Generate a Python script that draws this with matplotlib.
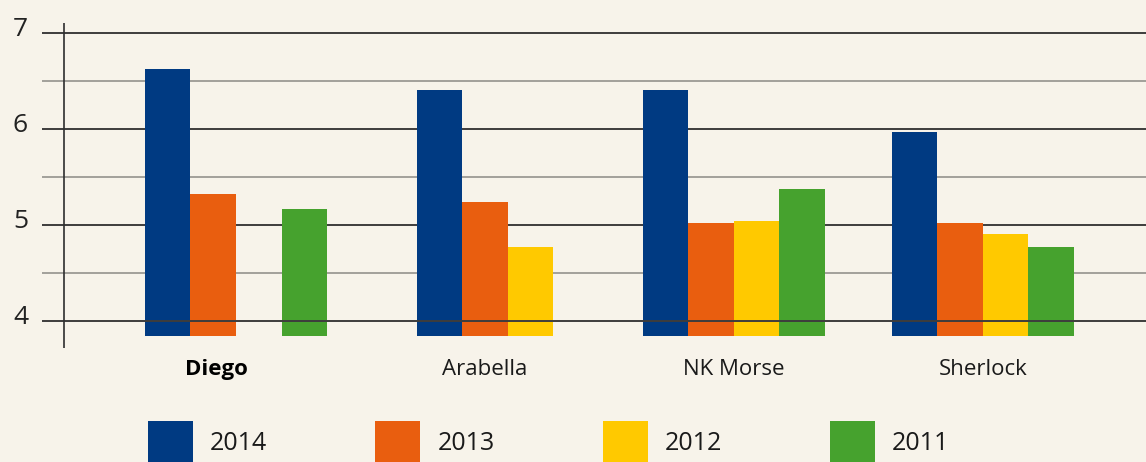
import numpy as np
import matplotlib.pyplot as plt
from matplotlib.patches import Rectangle
from matplotlib.transforms import ScaledTranslation

names = ['Diego', 'Arabella', 'NK Morse', 'Sherlock']
years = ['2014', '2013', '2012', '2011']
v2014 = [6.62, 6.41, 6.41, 5.97]
v2013 = [5.32, 5.24, 5.02, 5.02]
v2012 = [np.nan, 4.77, 5.04, 4.91]
v2011 = [5.17, np.nan, 5.37, 4.77]
yticks = [4, 5, 6, 7]

colors = ['#003a82', '#e95e0f', '#ffc900', '#46a22e']
bg = '#f7f3ea'
series = [v2014, v2013, v2012, v2011]

fig = plt.figure(figsize=(11.46, 4.62), dpi=100, facecolor=bg)
ax = fig.add_axes([42/1146, 1-348/462, 1-42/1146, 325/462])
ax.set_facecolor(bg)

w = 0.183
base = 3.84
for c in range(len(names)):
    vals = [s[c] for s in series]
    present = [i for i, v in enumerate(vals) if not np.isnan(v)]
    nslots = max(present) + 1
    for i, v in enumerate(vals):
        if np.isnan(v):
            continue
        x = c + (i - (nslots - 1) / 2) * w
        ax.bar(x, v - base, bottom=base, width=w, color=colors[i], zorder=2,
               linewidth=0)

ax.set_xlim(-0.779, 3.655)
ax.set_ylim(3.71875, 7.104)

for y in np.arange(4.5, 7, 1.0):
    ax.axhline(y, color='#9c9a94', lw=1.3, zorder=1)
for y in yticks:
    ax.axhline(y, color='#3d3d3d', lw=1.4, zorder=3 if y == 4 else 1)
ax.axvline(-0.691, color='#2e2e2e', lw=1.2, zorder=3)

for s in ax.spines.values():
    s.set_visible(False)

ax.set_yticks(yticks)
ax.set_yticklabels([str(t) for t in yticks], fontsize=19, family='Open Sans',
                   color='#222222')
ax.tick_params(axis='y', length=0, pad=10)
for lab in ax.get_yticklabels():
    lab.set_transform(lab.get_transform() + ScaledTranslation(0, 6/100, fig.dpi_scale_trans))

ax.set_xticks(range(len(names)))
ax.set_xticklabels(names, fontsize=16, family='Open Sans', color='#1a1a1a')
ax.tick_params(axis='x', length=0, pad=8)
xl = ax.get_xticklabels()
xl[0].set_fontweight('bold')
xl[0].set_color('#000000')
xl[0].set_transform(xl[0].get_transform() + ScaledTranslation(-20/100, 0, fig.dpi_scale_trans))

# legend drawn in pixel coordinates
lax = fig.add_axes([0, 0, 1, 1], zorder=-1)
lax.set_xlim(0, 1146)
lax.set_ylim(462, 0)
lax.axis('off')
for i, yr in enumerate(years):
    x0 = 148 + i * 227.3
    lax.add_patch(Rectangle((x0, 421), 45, 45, color=colors[i], lw=0))
    lax.text(x0 + 62, 443, yr, fontsize=18, va='center', ha='left',
             family='Open Sans', color='#1a1a1a')

fig.savefig('out.png', dpi=100, facecolor=bg)
